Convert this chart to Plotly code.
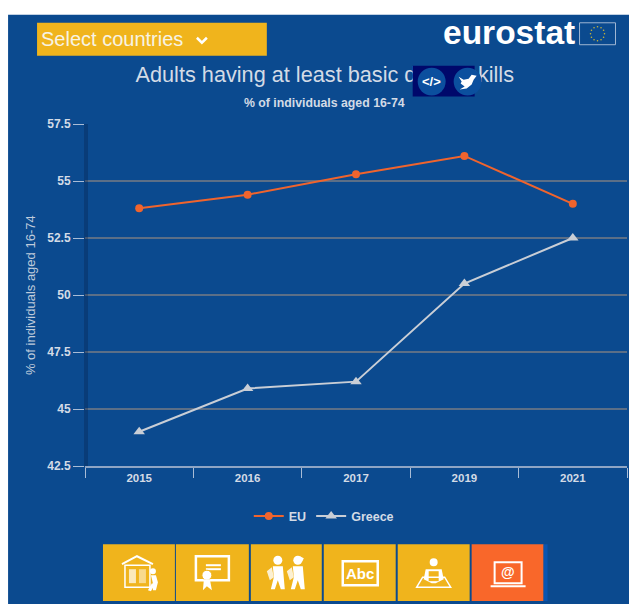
import math
import plotly.graph_objects as go

years = ["2015", "2016", "2017", "2019", "2021"]
eu_values = [53.8, 54.4, 55.3, 56.1, 54.0]
greece_values = [44.0, 45.9, 46.2, 50.5, 52.5]
y_ticks = [42.5, 45, 47.5, 50, 52.5, 55, 57.5]
y_labels = ["42.5", "45", "47.5", "50", "52.5", "55", "57.5"]

W, H = 629, 604
L, R, T, B = 85, 627.5, 123.5, 466.5
PANEL = "#0b4a8f"; YEL = "#f0b41c"; ORG = "#f9672a"; TXT = "#d3dbe6"; WHITE = "#ffffff"
FONT = "Liberation Sans, Arial, sans-serif"

def X(p): return (p - L) / (R - L)
def Y(p): return (B - p) / (B - T)

def rect(x0, y0, x1, y1, fill, line=None, lw=0, **kw):
    return dict(type="rect", xref="paper", yref="paper", x0=X(x0), x1=X(x1), y0=Y(y0), y1=Y(y1),
                fillcolor=fill, line=dict(color=line or fill, width=lw), layer="above", **kw)

def circ(cx, cy, r, fill, line=None, lw=0):
    return dict(type="circle", xref="paper", yref="paper", x0=X(cx - r), x1=X(cx + r), y0=Y(cy - r), y1=Y(cy + r),
                fillcolor=fill, line=dict(color=line or fill, width=lw), layer="above")

def poly(pts, fill="rgba(0,0,0,0)", line=WHITE, lw=0, close=True):
    d = "M" + " L".join(f"{X(a):.5f},{Y(b):.5f}" for a, b in pts) + (" Z" if close else "")
    return dict(type="path", xref="paper", yref="paper", path=d, fillcolor=fill,
                line=dict(color=line, width=lw), layer="above")

shapes = [
    dict(type="rect", xref="paper", yref="paper", x0=X(8), x1=X(W + 2), y0=Y(14), y1=Y(H + 2),
         fillcolor=PANEL, line=dict(width=0), layer="below"),
    rect(84, T, 88, B, "rgba(5,30,70,0.30)"),
    rect(37, 22, 267, 55, YEL),
    poly([(197, 37), (202, 42), (207, 37)], line=WHITE, lw=2.5, close=False),
    # title carrier: the embed/share box painted after it hides the middle, as in the reference
    dict(type="rect", xref="paper", yref="paper", x0=X(100), x1=X(550), y0=Y(59), y1=Y(85),
         fillcolor="rgba(0,0,0,0)", line=dict(width=0), layer="above",
         label=dict(text="Adults having at least basic digital skills", textposition="middle center",
                    font=dict(family=FONT, size=21.7, color=TXT))),
    rect(413, 65, 475, 96, "#00086b"),
    circ(432, 81, 14, "#0b4f9e"),
    circ(468, 81, 14, "#0b4f9e"),
    # twitter bird
    poly([(459, 76), (464, 79), (469, 78), (472, 74), (477, 75), (474, 79), (472, 84), (467, 88),
          (460, 89), (465, 86), (461, 83), (462, 81)], WHITE, WHITE, 0),
    # eurostat flag
    rect(580, 22, 616, 44, "#0b4a8f", "#9fb6d3", 1),
]
for i in range(12):
    a = i * math.pi / 6
    shapes.append(circ(598 + 7 * math.cos(a), 33 + 7 * math.sin(a), 0.8, "#c9b53a"))

# footer buttons
btns = [(103, 175, YEL), (176, 249, YEL), (251, 322, YEL), (324, 396, YEL), (398, 470, YEL), (472, 544, ORG)]
for x0, x1, c in btns:
    shapes.append(rect(x0, 545, x1, 602, c))
shapes.append(rect(544, 545, 548, 602, "#0a55b0"))

# icon 1: house with book and walker
shapes += [
    poly([(122, 565), (137, 557), (153, 565)], line=WHITE, lw=2, close=False),
    rect(125, 566, 150, 588, "rgba(0,0,0,0)", WHITE, 1.5),
    rect(129, 570, 136, 584, "rgba(255,255,255,0.7)"),
    rect(139, 570, 146, 584, "rgba(255,255,255,0.5)"),
    circ(153, 572, 3, WHITE),
    poly([(151, 576), (156, 576), (158, 583), (156, 591), (153, 591), (153, 584)], WHITE),
    poly([(152, 584), (155, 585), (151, 592), (148, 591)], WHITE),
]
# icon 2: diploma
shapes += [
    rect(196, 557, 229, 581, "rgba(0,0,0,0)", WHITE, 2.5),
    rect(206, 565, 221, 567, WHITE), rect(206, 569, 221, 571, WHITE),
    circ(207, 576, 5, WHITE, YEL, 1),
    poly([(204, 580), (210, 580), (212, 591), (207, 587), (203, 591)], WHITE),
]
# icon 3: two pupils
for cx, girl in ((277, False), (297, True)):
    shapes += [
        circ(cx + 1, 561, 4.5, WHITE),
        poly([(cx - 4, 567), (cx + 6, 567), (cx + 7, 579), (cx + 8, 590), (cx + 4, 590), (cx + 1, 581),
              (cx - 2, 590), (cx - 6, 590), (cx - 3, 578)], WHITE),
        poly([(cx - 10, 572), (cx - 5, 568), (cx - 3, 578), (cx - 7, 581)], "rgba(255,255,255,0.8)"),
    ]
shapes.append(poly([(300, 557), (304, 559), (302, 563)], WHITE))
# icon 4: board
shapes.append(rect(343, 562, 378, 586, "rgba(0,0,0,0)", WHITE, 2.5))
# icon 5: reader
shapes += [
    circ(434, 563, 4, WHITE),
    poly([(426, 570), (442, 570), (444, 580), (436, 584), (432, 584), (424, 580)], WHITE),
    rect(429, 572, 439, 582, YEL),
    poly([(417, 588), (423, 578), (445, 578), (451, 588)], line=WHITE, lw=1.5),
]
# icon 6: laptop
shapes += [
    rect(495, 563, 522, 584, "rgba(0,0,0,0)", WHITE, 2),
    rect(491, 586, 526, 588, WHITE),
]

def note(text, x, y, size, color=TXT, bold=False, family=FONT, **kw):
    return dict(text=f"<b>{text}</b>" if bold else text, xref="paper", yref="paper", x=X(x), y=Y(y),
                xanchor="center", yanchor="middle", showarrow=False,
                font=dict(family=family, size=size, color=color), **kw)

annotations = [
    note("Select countries", 112, 38, 20, "#f7f3e4"),
    note("eurostat", 509, 32, 33.5, WHITE, True),
    note("% of individuals aged 16-74", 325, 102, 12.3, TXT, True),
    note("% of individuals aged 16-74", 30, 295, 13, "#bfcbdb", textangle=-90),
    note("&lt;/&gt;", 432, 81, 13, WHITE, True),
    note("Abc", 360.5, 574, 15, WHITE, True),
    note("@", 508.5, 573, 14, WHITE, True),
]

fig = go.Figure()
fig.add_trace(go.Scatter(x=years, y=eu_values, name="EU", mode="lines+markers",
                         line=dict(color="#f0642d", width=2), marker=dict(symbol="circle", size=8, color="#f0642d")))
fig.add_trace(go.Scatter(x=years, y=greece_values, name="Greece", mode="lines+markers",
                         line=dict(color="#c9ced6", width=2), marker=dict(symbol="triangle-up", size=10, color="#c9ced6")))

fig.update_layout(
    width=W, height=H, autosize=False,
    margin=dict(l=L, r=W - R, t=T, b=H - B, pad=0),
    paper_bgcolor=WHITE, plot_bgcolor="rgba(0,0,0,0)",
    font=dict(family=FONT, size=11, color=TXT),
    shapes=shapes, annotations=annotations,
    legend=dict(orientation="h", xanchor="center", yanchor="middle", x=X(324), y=Y(517),
                bgcolor="rgba(0,0,0,0)", font=dict(family=FONT, size=12.5, color=TXT, weight="bold"), itemwidth=30),
    xaxis=dict(type="category", categoryorder="array", categoryarray=years, range=[-0.5, 4.5],
               tickson="boundaries", ticks="outside", ticklen=10, tickcolor="#a9bcd6", tickwidth=1,
               showline=True, linecolor="#8fa5c4", linewidth=2, showgrid=False,
               tickfont=dict(family=FONT, size=11.5, color=TXT, weight="bold")),
    yaxis=dict(range=[42.5, 57.5], tickvals=y_ticks, ticktext=y_labels, ticks="outside", ticklen=11,
               tickcolor="#a9bcd6", tickwidth=1, showgrid=True, gridcolor="#5c6f87", gridwidth=1.5,
               zeroline=False, showline=False,
               tickfont=dict(family=FONT, size=12, color=TXT, weight="bold")),
)

fig.write_html("out.html", config=dict(displayModeBar=False),
               post_script="document.body.style.margin='0';document.body.style.overflow='hidden';")
